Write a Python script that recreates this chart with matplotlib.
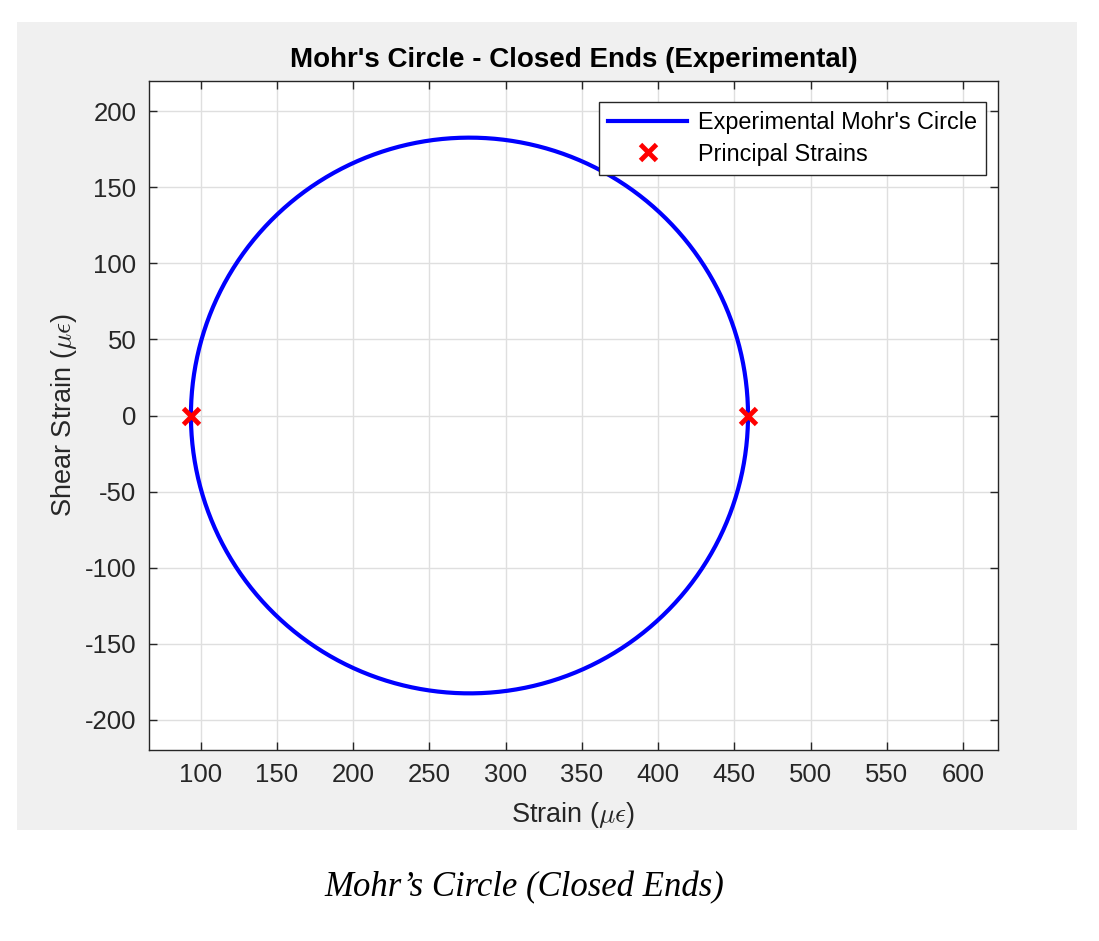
import numpy as np
import matplotlib
matplotlib.use('Agg')
import matplotlib.pyplot as plt
from matplotlib.patches import Rectangle

# principal strains (micro strain)
principal_strains = [93.5, 459.0]
principal_shear = [0.0, 0.0]
xticks = [100, 150, 200, 250, 300, 350, 400, 450, 500, 550, 600]
yticks = [-200, -150, -100, -50, 0, 50, 100, 150, 200]

center = 0.5*(principal_strains[0] + principal_strains[1])
radius = 0.5*(principal_strains[1] - principal_strains[0])
theta = np.linspace(0, 2*np.pi, 400)
circle_x = center + radius*np.cos(theta)
circle_y = radius*np.sin(theta)

plt.rcParams['font.family'] = ['Liberation Sans', 'DejaVu Sans']
plt.rcParams['mathtext.fontset'] = 'cm'
plt.rcParams['axes.unicode_minus'] = False

dark = '#262626'
W, H = 1099, 941
fig = plt.figure(figsize=(W/100, H/100), dpi=100)
# gray MATLAB figure panel
fig.patches.append(Rectangle((17/W, 111/H), 1060/W, 808/H,
                             transform=fig.transFigure, fc='#f0f0f0', ec='none', zorder=-10))
ax = fig.add_axes([149/W, 191/H, 849/W, 669/H])
ax.plot(circle_x, circle_y, color='#0000ff', lw=3, label="Experimental Mohr's Circle", zorder=3)
ax.plot(principal_strains, principal_shear, 'x', color='#ff0000', ms=12, mew=3.5,
        label='Principal Strains', zorder=4)
ax.set_xlim(66, 623)
ax.set_ylim(-220, 220)
ax.set_xticks(xticks)
ax.set_yticks(yticks)
ax.grid(True, color='#dfdfdf', lw=1)
ax.set_axisbelow(True)
ax.tick_params(direction='in', top=True, right=True, length=6, width=1,
               colors=dark, labelsize=18.5, pad=9)
for s in ax.spines.values():
    s.set_color(dark)
    s.set_linewidth(1)
ax.set_title("Mohr's Circle - Closed Ends (Experimental)", fontsize=20,
             fontweight='bold', color='black', pad=10)
ax.set_xlabel(r'Strain ($\mu\epsilon$)', fontsize=19.5, color=dark, labelpad=10)
ax.set_ylabel(r'Shear Strain ($\mu\epsilon$)', fontsize=19.5, color=dark, labelpad=4)
leg = ax.legend(loc='upper right', bbox_to_anchor=(986/W, 1 - 102/H),
                bbox_transform=fig.transFigure, borderaxespad=0,
                fontsize=16.8, frameon=True, fancybox=False,
                edgecolor=dark, framealpha=1, handlelength=3.4,
                borderpad=0.4, labelspacing=0.35, handletextpad=0.45)
leg.get_frame().set_linewidth(1)
fig.text(524/W, 1 - 888/H, 'Mohr\u2019s Circle (Closed Ends)', family='Liberation Serif',
         style='italic', fontsize=25, ha='center', va='center')
fig.savefig('out.png', dpi=100)
